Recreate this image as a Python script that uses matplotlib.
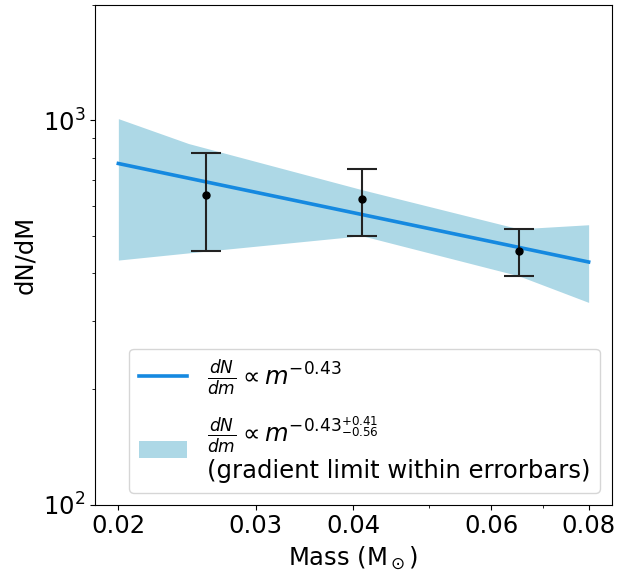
import matplotlib
matplotlib.use("Agg")
import matplotlib.pyplot as plt
from matplotlib.ticker import NullFormatter

# measured points with asymmetric errorbars
mass = [0.0259, 0.0410, 0.0651]
dndm = [638, 623, 456]
err_hi = [821, 749, 522]
err_lo = [457, 501, 394]

# best-fit power law (end points)
fit_x = [0.02, 0.08]
fit_y = [772, 428]

# band of gradients allowed within errorbars
band_x = [0.02, 0.0246, 0.0410, 0.0651, 0.08]
band_hi = [1010, 870, 660, 522, 535]
band_lo = [433, 452, 501, 394, 336]

xticks = [0.02, 0.03, 0.04, 0.06, 0.08]
xticklabels = ["0.02", "0.03", "0.04", "0.06", "0.08"]

plt.rcParams["font.size"] = 17.5

fig = plt.figure(figsize=(6.24, 5.71), dpi=100)
ax = fig.add_axes([0.152, 0.116, 0.829, 0.876])

ax.fill_between(band_x, band_lo, band_hi, color="lightblue", lw=0,
                label=r"$\frac{dN}{dm} \propto m^{-0.43^{+0.41}_{-0.56}}$"
                      "\n(gradient limit within errorbars)")
ax.plot(fit_x, fit_y, color="#1589e0", lw=2.6,
        label=r"$\frac{dN}{dm} \propto m^{-0.43}$")

yerr = [[d - lo for d, lo in zip(dndm, err_lo)],
        [hi - d for d, hi in zip(dndm, err_hi)]]
ax.errorbar(mass, dndm, yerr=yerr, fmt="o", color="black", ms=5,
            ecolor="#222222", elinewidth=1.5, capsize=11, capthick=1.5)

ax.set_xscale("log")
ax.set_yscale("log")
ax.set_ylim(100, 2000)
ax.set_xticks(xticks)
ax.set_xticklabels(xticklabels)
ax.xaxis.set_minor_formatter(NullFormatter())

ax.set_xlabel(r"Mass (M$_\odot$)")
ax.set_ylabel("dN/dM")

handles, labels = ax.get_legend_handles_labels()
ax.legend(handles[::-1], labels[::-1], loc="lower right", labelspacing=0.7)

fig.savefig("out.png", dpi=100)
